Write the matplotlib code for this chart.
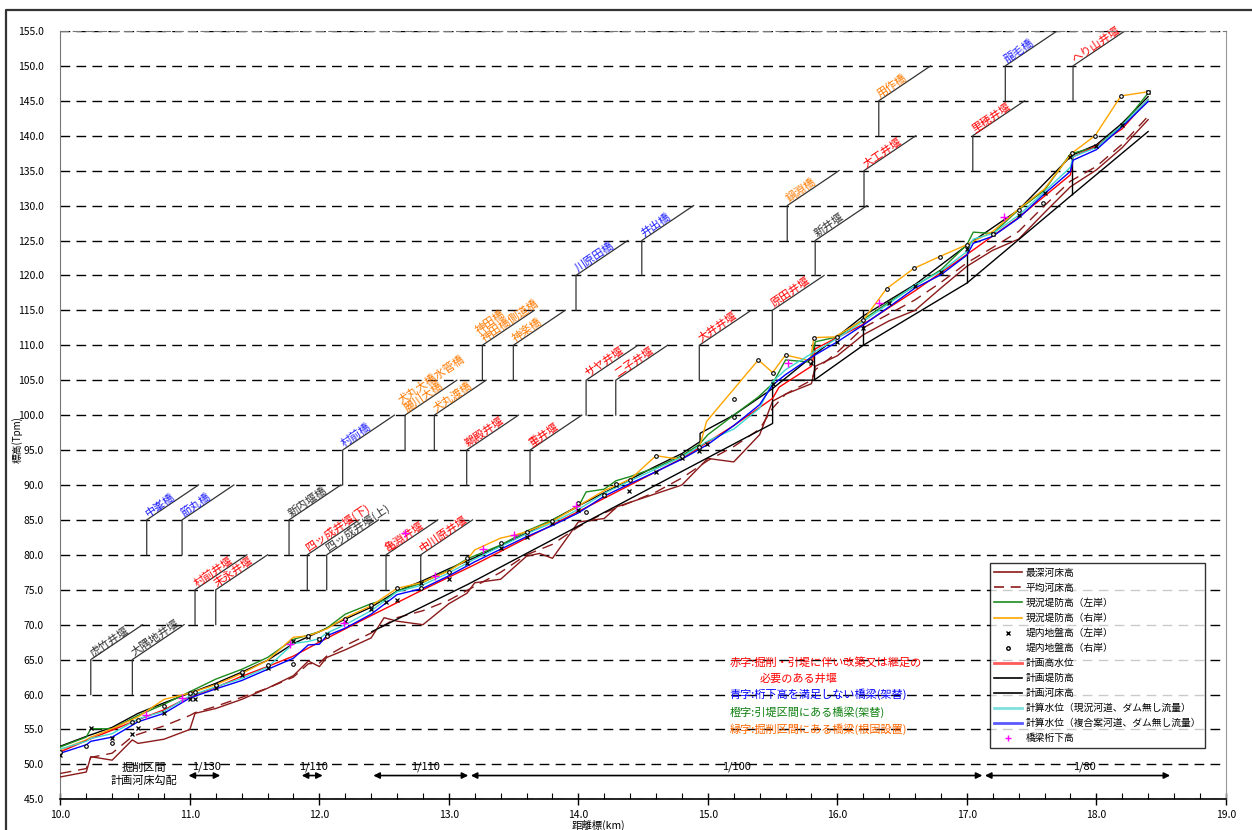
import math

import matplotlib

matplotlib.use("Agg")

import matplotlib.pyplot as plt
from matplotlib.lines import Line2D
from matplotlib.ticker import FormatStrFormatter, MultipleLocator

plt.rcParams["font.family"] = ["Noto Sans CJK JP", "DejaVu Sans"]

# ---- longitudinal profile data (km, elevation T.P.m) ----
deep_km = [10.0, 10.2, 10.235, 10.4, 10.556, 10.6, 10.8, 11.0, 11.04, 11.2, 11.4, 11.6, 11.8,
           11.915, 12.0, 12.057, 12.2, 12.4, 12.5, 12.6, 12.8, 12.9, 13.0, 13.14, 13.2, 13.4,
           13.6, 13.7, 13.8, 14.0, 14.2, 14.3, 14.8, 15.0, 15.2, 15.4, 15.5, 15.6, 15.8, 15.83,
           16.0, 16.2, 16.4, 16.6, 16.8, 17.0, 17.2, 17.4, 17.6, 17.8, 18.0, 18.2, 18.4]
deep_el = [48.2, 48.9, 51.1, 50.6, 53.5, 53.0, 53.6, 55.0, 57.3, 58.0, 59.3, 60.9, 62.7,
           64.8, 64.0, 65.3, 66.4, 68.1, 71.0, 70.5, 70.0, 71.5, 73.0, 74.5, 76.0, 76.5,
           79.8, 80.2, 79.5, 84.7, 85.2, 86.9, 90.0, 93.8, 93.3, 97.2, 102.0, 103.0, 104.5, 107.0,
           108.5, 111.5, 113.5, 115.0, 118.2, 121.3, 123.6, 125.2, 129.0, 132.7, 135.1, 138.3, 142.3]

mean_km = [10.0, 10.2, 10.235, 10.4, 10.556, 10.6, 10.8, 11.0, 11.04, 11.2, 11.4, 11.6, 11.8,
           11.915, 12.0, 12.057, 12.2, 12.4, 12.6, 12.8, 13.0, 13.2, 13.4, 13.6, 13.8, 14.0,
           14.2, 14.4, 14.6, 14.8, 15.0, 15.2, 15.4, 15.5, 15.6, 15.8, 15.83, 16.0, 16.2, 16.4,
           16.6, 16.8, 17.0, 17.2, 17.4, 17.6, 17.8, 18.0, 18.2, 18.4]
mean_el = [48.7, 49.4, 51.0, 51.6, 54.0, 54.3, 55.5, 57.0, 57.4, 58.3, 59.6, 60.9, 62.5,
           64.4, 64.5, 65.5, 67.0, 68.8, 71.0, 72.0, 73.5, 75.5, 77.5, 80.0, 81.5, 84.0,
           86.0, 87.5, 89.0, 91.0, 93.5, 95.5, 98.0, 101.0, 103.0, 105.0, 106.5, 109.0, 112.5, 114.5,
           116.5, 119.0, 121.8, 124.0, 126.3, 130.0, 133.5, 135.6, 138.8, 142.8]

levee_l_km = [10.0, 10.2, 10.235, 10.4, 10.6, 10.8, 11.0, 11.2, 11.4, 11.6, 11.8, 11.915, 12.0,
              12.057, 12.2, 12.4, 12.515, 12.6, 12.783, 13.0, 13.14, 13.4, 13.6, 13.8, 14.0, 14.06,
              14.2, 14.29, 14.4, 14.6, 14.8, 14.934, 15.0, 15.2, 15.39, 15.5, 15.6, 15.79, 15.83,
              16.0, 16.2, 16.4, 16.6, 16.8, 17.0, 17.05, 17.2, 17.4, 17.6, 17.8, 18.0, 18.2, 18.4]
levee_l_el = [52.5, 53.9, 55.1, 55.1, 57.0, 58.6, 60.4, 62.2, 63.6, 65.3, 67.9, 68.5, 69.0,
              69.5, 71.5, 73.0, 73.6, 74.8, 75.9, 77.8, 79.4, 81.4, 83.4, 85.0, 86.9, 89.0,
              89.4, 90.6, 91.2, 92.5, 94.2, 95.8, 97.2, 100.0, 102.6, 104.5, 107.9, 107.6, 110.5,
              111.2, 113.7, 116.2, 118.5, 120.8, 124.4, 126.2, 126.0, 129.4, 132.2, 137.4, 138.4, 141.5, 146.1]

levee_r_km = [10.0, 10.2, 10.235, 10.4, 10.6, 10.8, 11.0, 11.2, 11.4, 11.6, 11.8, 11.915, 12.0,
              12.057, 12.2, 12.4, 12.6, 12.783, 13.0, 13.14, 13.2, 13.4, 13.5, 13.6, 13.8, 14.0,
              14.2, 14.4, 14.6, 14.7, 14.8, 14.934, 14.99, 15.39, 15.5, 15.6, 15.79, 15.82, 15.98,
              16.2, 16.38, 16.59, 16.79, 17.0, 17.2, 17.4, 17.6, 17.81, 17.99, 18.19, 18.4]
levee_r_el = [52.1, 53.5, 53.9, 55.1, 56.8, 59.3, 60.2, 61.4, 63.0, 64.9, 68.2, 68.4, 69.0,
              69.4, 71.0, 72.7, 75.2, 76.0, 77.7, 79.3, 80.7, 82.4, 82.8, 83.3, 84.8, 87.0,
              89.2, 90.8, 94.2, 93.9, 93.7, 95.3, 99.1, 107.9, 106.1, 108.6, 107.8, 111.1, 111.2,
              113.6, 118.1, 121.0, 122.7, 124.4, 126.3, 129.5, 132.4, 137.5, 140.0, 145.7, 146.3]

ground_l_km = [10.0, 10.235, 10.4, 10.556, 10.6, 10.8, 11.0, 11.04, 11.2, 11.4, 11.6, 11.8, 11.915,
               12.0, 12.057, 12.2, 12.4, 12.515, 12.6, 12.783, 13.0, 13.14, 13.4, 13.6, 13.8, 14.0,
               14.2, 14.29, 14.39, 14.6, 14.8, 14.934, 14.99, 15.5, 15.8, 16.0, 16.2, 16.4, 16.6,
               16.8, 17.0, 17.2, 17.4, 17.6, 17.8, 18.0, 18.2, 18.4]
ground_l_el = [51.4, 55.2, 53.8, 54.4, 55.2, 57.3, 59.4, 59.4, 60.9, 62.8, 63.8, 67.6, 68.3,
               68.0, 68.6, 70.5, 72.3, 73.3, 73.6, 75.9, 76.5, 78.8, 81.0, 82.6, 84.5, 86.4,
               88.6, 90.0, 89.1, 91.9, 93.8, 94.8, 95.9, 104.5, 107.5, 110.5, 112.5, 116.0, 118.5,
               120.5, 123.8, 126.0, 128.7, 131.8, 137.0, 138.5, 141.5, 146.3]

ground_r_km = [10.0, 10.2, 10.4, 10.556, 10.6, 10.8, 11.0, 11.04, 11.2, 11.4, 11.6, 11.8, 11.915,
               12.0, 12.057, 12.2, 12.4, 12.6, 12.783, 13.0, 13.14, 13.4, 13.6, 13.8, 14.0, 14.06,
               14.2, 14.29, 14.4, 14.6, 14.8, 14.934, 15.2, 15.2, 15.39, 15.5, 15.6, 15.79, 15.82,
               16.0, 16.2, 16.38, 16.59, 16.79, 17.0, 17.2, 17.4, 17.59, 17.81, 17.99, 18.19, 18.4]
ground_r_el = [51.8, 52.7, 53.0, 56.1, 56.3, 58.3, 60.2, 60.4, 61.4, 63.2, 64.2, 64.3, 68.4,
               68.0, 68.4, 70.8, 72.8, 75.2, 75.2, 77.6, 79.5, 81.7, 83.3, 84.8, 87.4, 86.2,
               88.6, 90.2, 90.7, 94.2, 94.1, 95.5, 102.3, 99.8, 107.9, 106.1, 108.6, 107.8, 111.1,
               111.2, 113.6, 118.1, 121.0, 122.7, 124.4, 126.0, 129.4, 130.3, 137.5, 140.0, 145.7, 146.3]

hwl_km = [10.0, 10.2, 10.6, 10.8, 11.0, 11.2, 11.4, 11.6, 11.8, 12.0, 12.4, 12.8, 13.2, 13.6,
          14.0, 14.4, 14.8, 15.2, 15.5, 15.55, 15.8, 15.83, 16.2, 16.6, 17.0, 17.4, 17.8, 17.82,
          18.0, 18.2, 18.4]
hwl_el = [51.8, 53.4, 56.4, 57.8, 59.7, 61.0, 62.6, 64.0, 65.5, 67.5, 71.3, 75.0, 78.6, 82.4,
          86.2, 90.0, 93.8, 98.5, 102.4, 104.0, 107.0, 109.5, 113.0, 117.8, 123.0, 128.3, 134.4, 137.0,
          138.5, 141.0, 145.2]

plan_levee_km = [10.0, 10.2, 10.4, 10.6, 10.8, 11.0, 11.2, 11.4, 11.6, 11.8, 12.0, 12.2, 12.4,
                 12.6, 12.8, 13.0, 13.2, 13.4, 13.6, 13.8, 14.0, 14.2, 14.4, 14.6, 14.8, 14.94,
                 14.94, 15.2, 15.5, 15.82, 16.2, 16.6, 17.0, 17.4, 17.81, 18.0, 18.2, 18.4]
plan_levee_el = [52.6, 54.0, 55.3, 57.3, 58.8, 60.2, 61.6, 63.2, 64.9, 67.3, 69.0, 70.8, 72.5,
                 74.8, 76.3, 78.0, 79.6, 81.3, 83.1, 85.0, 87.0, 88.9, 90.8, 92.7, 94.5, 96.2,
                 97.4, 100.0, 103.8, 108.6, 114.2, 118.7, 124.3, 129.4, 137.2, 138.7, 141.8, 145.6]

plan_bed_km = [12.405, 13.15, 15.5, 15.5, 15.82, 16.2, 17.0, 17.81, 18.4]
plan_bed_el = [69.0, 75.8, 98.8, 105.0, 105.0, 110.0, 118.9, 131.5, 140.6]

# weir bodies drawn from the planned bed up to crest level
weir_km = [15.82, 16.2, 17.0, 17.81]
weir_low = [105.0, 110.0, 118.9, 131.5]
weir_high = [110.3, 115.1, 124.6, 137.6]

calc_now_km = [10.0, 10.2, 10.235, 10.4, 10.6, 10.8, 11.0, 11.2, 11.4, 11.6, 11.8, 11.915, 12.0,
               12.057, 12.2, 12.4, 12.6, 12.8, 13.0, 13.2, 13.4, 13.6, 13.8, 14.0, 14.2, 14.4,
               14.6, 14.8, 15.0, 15.2, 15.4, 15.5, 15.6, 15.8, 16.0, 16.2, 16.4, 16.6, 16.8,
               17.0, 17.05, 17.2, 17.4, 17.6, 17.8, 17.82, 18.0, 18.2, 18.4]
calc_now_el = [52.2, 53.3, 53.7, 54.4, 56.5, 57.6, 59.8, 61.1, 62.3, 63.9, 67.3, 67.6, 68.0,
               68.8, 70.0, 72.0, 74.7, 75.7, 77.4, 79.4, 81.2, 83.0, 84.6, 86.5, 88.8, 90.6,
               92.3, 94.0, 96.3, 98.0, 101.0, 104.8, 106.5, 108.8, 111.0, 113.4, 116.0, 118.6, 120.6,
               123.4, 125.2, 126.0, 128.6, 132.0, 135.5, 137.0, 138.3, 141.5, 145.2]

calc_plan_km = [10.0, 10.2, 10.235, 10.4, 10.6, 10.8, 11.0, 11.2, 11.4, 11.6, 11.8, 11.915, 12.0,
                12.057, 12.2, 12.4, 12.6, 12.8, 13.0, 13.2, 13.4, 13.6, 13.8, 14.0, 14.2, 14.4,
                14.6, 14.8, 15.0, 15.2, 15.4, 15.5, 15.6, 15.8, 16.0, 16.2, 16.4, 16.6, 16.8,
                17.0, 17.05, 17.2, 17.4, 17.6, 17.8, 17.82, 18.0, 18.2, 18.4]
calc_plan_el = [51.6, 52.8, 53.3, 53.9, 56.1, 57.3, 59.5, 60.8, 62.0, 63.6, 65.2, 67.1, 67.2,
                68.4, 69.5, 71.5, 74.3, 75.2, 77.0, 79.0, 80.8, 82.6, 84.2, 86.0, 88.4, 90.2,
                91.9, 93.7, 95.8, 98.5, 101.5, 104.3, 105.8, 108.3, 110.5, 112.9, 115.5, 118.2, 120.1,
                122.9, 124.6, 125.6, 128.2, 131.7, 134.9, 136.5, 138.0, 141.3, 144.9]

girder_km = [10.66, 10.94, 11.77, 12.19, 12.66, 12.89, 13.26, 13.50, 13.98, 15.62, 16.32, 17.29]
girder_el = [57.1, 59.5, 67.2, 70.2, 83.1, 77.0, 80.9, 82.8, 87.0, 107.4, 116.1, 128.3]

# structures: name, km of leader line, base elevation of leader, text colour
struct_names = ["虎竹井堰", "大隅地井堰", "村前井堰", "末永井堰", "中峯橋", "節丸橋", "新内堰橋",
                "村前橋", "四ッ成井堰(下)", "四ッ成井堰(上)", "亀淵井堰", "中川原井堰",
                "犬丸大橋水管橋\n麗川大橋", "犬丸渡橋", "鵜殿井堰", "重井堰", "神田橋\n神田橋側道橋",
                "神楽橋", "川原田橋", "井出橋", "サヤ井堰", "二子井堰", "大井井堰", "原田井堰",
                "鍋淵橋", "新井堰", "大工井堰", "用作橋", "里穂井堰", "龍毛橋", "へり山井堰"]
struct_km = [10.235, 10.556, 11.04, 11.20, 10.667, 10.94, 11.766, 12.18, 11.907, 12.057, 12.515,
             12.783, 12.662, 12.888, 13.138, 13.627, 13.259, 13.498, 13.982, 14.49, 14.06, 14.289,
             14.934, 15.498, 15.613, 15.829, 16.206, 16.32, 17.046, 17.297, 17.82]
struct_base = [60, 60, 70, 70, 80, 80, 80, 90, 75, 75, 75, 75, 95, 95, 90, 90, 105, 105, 115,
               120, 100, 100, 105, 110, 125, 120, 130, 140, 135, 145, 145]
struct_kind = ["k", "k", "r", "r", "b", "b", "k", "b", "r", "k", "r", "r", "o", "o", "r", "r", "o",
               "o", "b", "b", "r", "r", "r", "r", "o", "k", "r", "o", "r", "b", "r"]

grad_labels = ["1/130", "1/110", "1/110", "1/100", "1/80"]
grad_start = [10.99, 11.864, 12.417, 13.17, 17.14]
grad_end = [11.235, 12.026, 13.15, 17.12, 18.57]
grad_text_km = [11.13, 11.955, 12.82, 15.22, 17.91]

legend_labels = ["最深河床高", "平均河床高", "現況堤防高（左岸）", "現況堤防高（右岸）",
                 "堤内地盤高（左岸）", "堤内地盤高（右岸）", "計画高水位", "計画堤防高",
                 "計画河床高", "計算水位（現況河道、ダム無し流量）",
                 "計算水位（複合案河道、ダム無し流量）", "橋梁桁下高"]

kind_colors = {"k": "#333333", "r": "#FF0000", "b": "#2020FF", "o": "#FF7A00"}

C_BED = "#8B1A1A"
C_GREEN = "#1E8C1E"
C_ORANGE = "#FFA500"
C_RED = "#FF0000"
C_CYAN = "#40D8D0"
C_BLUE = "#0000FF"

fig = plt.figure(figsize=(12.52, 8.30), dpi=100)
ax = fig.add_axes([0.0482, 0.0370, 0.9309, 0.9257])
ax.set_xlim(10.0, 19.0)
ax.set_ylim(45.0, 155.0)

lw = 1.0
ax.plot(deep_km, deep_el, color=C_BED, lw=lw, zorder=3)
ax.plot(mean_km, mean_el, color=C_BED, lw=lw, ls=(0, (8, 5)), zorder=3)
ax.plot(plan_bed_km, plan_bed_el, color="black", lw=lw, zorder=3)
ax.vlines(weir_km, weir_low, weir_high, color="black", lw=lw, zorder=3)
ax.plot(plan_levee_km, plan_levee_el, color="black", lw=lw, zorder=3)
ax.plot(levee_l_km, levee_l_el, color=C_GREEN, lw=lw, zorder=4)
ax.plot(levee_r_km, levee_r_el, color=C_ORANGE, lw=lw, zorder=4)
ax.plot(hwl_km, hwl_el, color=C_RED, lw=lw, zorder=4)
ax.plot(calc_now_km, calc_now_el, color=C_CYAN, lw=lw, zorder=4)
ax.plot(calc_plan_km, calc_plan_el, color=C_BLUE, lw=lw, zorder=5)
ax.plot(ground_l_km, ground_l_el, ls="none", marker="x", ms=3.5, mew=0.9, color="black", zorder=6)
ax.plot(ground_r_km, ground_r_el, ls="none", marker="o", ms=2.6, mew=0.8, mfc="white",
        mec="black", zorder=6)
ax.plot(girder_km, girder_el, ls="none", marker="+", ms=6, mew=1.0, color="#FF00FF", zorder=7)

# structure leaders with slanted names
fig.canvas.draw()
for name, km, base, kind in zip(struct_names, struct_km, struct_base, struct_kind):
    top = base + 5
    ax.plot([km, km, km + 0.4], [base, top, top + 5], color="#333333", lw=0.9, zorder=2)
    p0 = ax.transData.transform((km, top))
    p1 = ax.transData.transform((km + 0.4, top + 5))
    ang = math.degrees(math.atan2(p1[1] - p0[1], p1[0] - p0[0]))
    ax.annotate(name, xy=(km, top), xytext=(2.0, 1.0), textcoords="offset points",
                rotation=ang, rotation_mode="anchor", ha="left", va="bottom",
                fontsize=8, color=kind_colors[kind], linespacing=0.95, zorder=2)

# bed gradient arrows
for lab, x0, x1, xt in zip(grad_labels, grad_start, grad_end, grad_text_km):
    ax.annotate("", xy=(x1, 48.4), xytext=(x0, 48.4),
                arrowprops=dict(arrowstyle="<|-|>", color="black", lw=1.2,
                                mutation_scale=9, shrinkA=0, shrinkB=0))
    ax.text(xt, 49.7, lab, ha="center", va="center", fontsize=8)
ax.text(10.645, 48.5, "掘削区間\n計画河床勾配", ha="center", va="center", fontsize=8,
        linespacing=1.25)

# colour key notes
notes = [("赤字:掘削・引堤に伴い改築又は継足の", "#FF0000", 15.17, 64.66),
         ("必要のある井堰", "#FF0000", 15.40, 62.23),
         ("青字:桁下高を満足しない橋梁(架替)", "#0000FF", 15.17, 60.08),
         ("橙字:引堤区間にある橋梁(架替)", "#108010", 15.17, 57.51),
         ("緑字:掘削区間にある橋梁(根固設置)", "#FF6600", 15.17, 55.07)]
for txt, col, xk, yv in notes:
    ax.text(xk, yv, txt, ha="left", va="center", fontsize=8, color=col)

# axes styling
ax.xaxis.set_major_locator(MultipleLocator(1.0))
ax.xaxis.set_minor_locator(MultipleLocator(0.2))
ax.yaxis.set_major_locator(MultipleLocator(5.0))
ax.xaxis.set_major_formatter(FormatStrFormatter("%.1f"))
ax.yaxis.set_major_formatter(FormatStrFormatter("%.1f"))
ax.tick_params(axis="x", which="major", direction="inout", length=8, width=1, labelsize=7.5, pad=4)
ax.tick_params(axis="x", which="minor", direction="in", length=4, width=0.8)
ax.tick_params(axis="y", length=0, labelsize=7.5, pad=12)
ax.yaxis.grid(True, color="black", lw=1.0, ls=(0, (7, 4.5)), zorder=1)
ax.set_axisbelow(True)
ax.spines["left"].set_color("#777777")
ax.spines["right"].set_color("#999999")
ax.spines["top"].set_color("#777777")
ax.spines["top"].set_linestyle((0, (7, 4.5)))
ax.spines["bottom"].set_color("black")
ax.spines["bottom"].set_linewidth(1.2)

fig.text(0.0136, 0.47, "標高(Tpm)", rotation=90, ha="center", va="center", fontsize=7)
fig.text(0.478, 0.006, "距離標(km)", ha="center", va="center", fontsize=7.5)

# outer frame (extends past the bottom/right edges of the image)
fig.add_artist(Line2D([0.0048, 0.0048, 1.01], [-0.02, 0.988, 0.988],
                      transform=fig.transFigure, color="#333333", lw=1.6))

handles = [
    Line2D([], [], color=C_BED, lw=1.2),
    Line2D([], [], color=C_BED, lw=1.2, ls=(0, (6, 4))),
    Line2D([], [], color=C_GREEN, lw=1.2),
    Line2D([], [], color=C_ORANGE, lw=1.2),
    Line2D([], [], ls="none", marker="x", ms=3, color="black"),
    Line2D([], [], ls="none", marker="o", ms=2.5, mfc="white", mec="black"),
    Line2D([], [], color="#FF5A5A", lw=2.0),
    Line2D([], [], color="black", lw=1.2),
    Line2D([], [], color="black", lw=1.2),
    Line2D([], [], color="#80E0E0", lw=2.0),
    Line2D([], [], color="#5A5AFF", lw=2.0),
    Line2D([], [], ls="none", marker="+", ms=5, color="#FF00FF"),
]
leg = ax.legend(handles, legend_labels, loc="upper left", bbox_to_anchor=(0.7977, 0.307),
                fontsize=7, frameon=True, fancybox=False, edgecolor="black",
                handlelength=2.8, handletextpad=0.4, labelspacing=0.52, borderpad=0.45,
                borderaxespad=0.0)
leg.get_frame().set_linewidth(1.0)
leg.set_zorder(10)

fig.savefig("out.png", dpi=100)
plt.close(fig)
